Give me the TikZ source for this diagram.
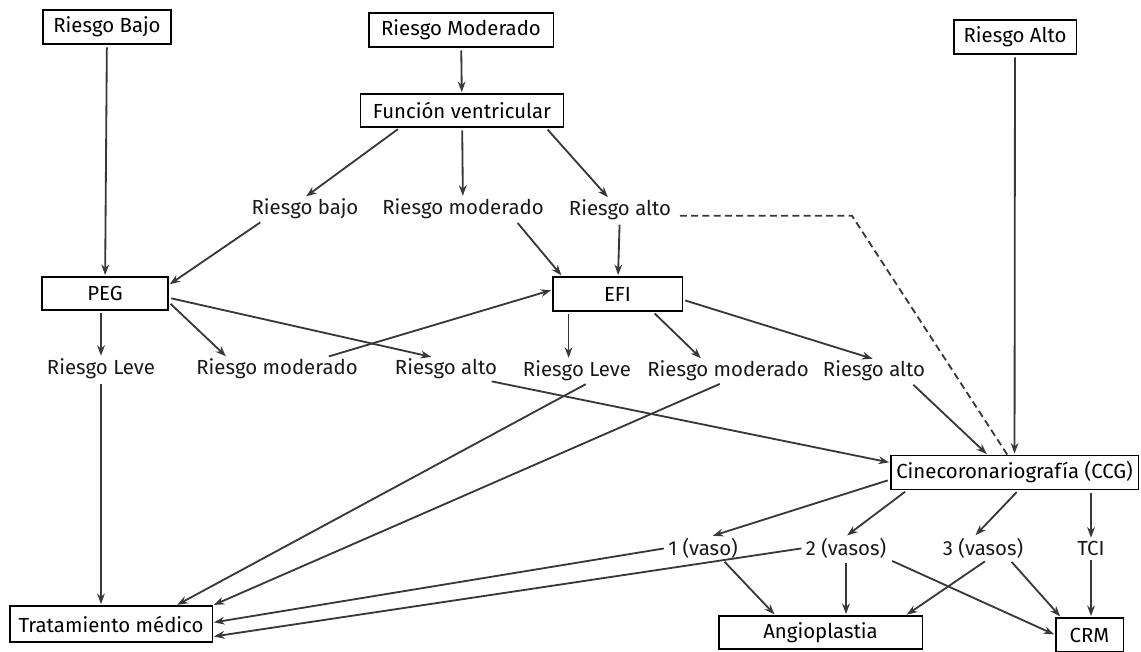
\documentclass[tikz,border=0pt]{standalone}
\usepackage{fontspec}
\setmainfont{Fira Sans}
\usetikzlibrary{arrows.meta}

\begin{document}
\begin{tikzpicture}[
    x=0.025cm, y=-0.025cm,
    font=\fontsize{14.5}{17}\selectfont,
    block/.style={rectangle, draw=black, line width=0.75pt, inner sep=0pt, minimum height=0.85cm, align=center},
    lbl/.style={inner sep=1pt, text=black!90},
    arrow/.style={-{Stealth[length=7.5pt, width=5.5pt]}, line width=1.3pt, draw=black!78, shorten <=2pt, shorten >=1pt},
    dashline/.style={dash pattern=on 5pt off 3pt, line width=1.3pt, draw=black!78, shorten <=5pt}
]
    \useasboundingbox (0,0) rectangle (1141,651);

    % entry boxes
    \node[block, minimum width=3.2cm] (rbajo) at (107,27) {Riesgo Bajo};
    \node[block, minimum width=4.6cm] (rmod) at (461,30) {Riesgo Moderado};
    \node[block, minimum width=3.05cm] (ralto) at (1015,37) {Riesgo Alto};
    \node[block, minimum width=5.075cm, minimum height=0.825cm] (fv) at (462,110.5) {Función ventricular};

    \node[lbl] (fvbajo) at (305,209) {Riesgo bajo};
    \node[lbl] (fvmod) at (463,209) {Riesgo moderado};
    \node[lbl] (fvalto) at (620,210) {Riesgo alto};

    \node[block, minimum width=3.15cm, minimum height=0.825cm] (peg) at (105,293.5) {PEG};
    \node[block, minimum width=3.225cm] (efi) at (617.5,294) {EFI};

    \node[lbl] (pegleve) at (101,369) {Riesgo Leve};
    \node[lbl] (pegmod) at (277,369) {Riesgo moderado};
    \node[lbl] (pegalto) at (446,369) {Riesgo alto};
    \node[lbl] (efileve) at (577,371) {Riesgo Leve};
    \node[lbl] (efimod) at (728,371) {Riesgo moderado};
    \node[lbl] (efialto) at (874,371) {Riesgo alto};

    \node[block, minimum width=6.175cm] (ccg) at (1014.5,472.5) {Cinecoronariografía (CCG)};

    \node[lbl] (v1) at (703,548) {1 (vaso)};
    \node[lbl] (v2) at (846,548) {2 (vasos)};
    \node[lbl] (v3) at (983,548) {3 (vasos)};
    \node[lbl] (tci) at (1091,548) {TCI};

    % outcome boxes
    \node[block, minimum width=5.05cm, minimum height=0.9cm] (tm) at (111,624) {Tratamiento médico};
    \node[block, minimum width=5.075cm, minimum height=0.825cm] (angio) at (820.5,632.5) {Angioplastia};
    \node[block, minimum width=1.675cm] (crm) at (1089.5,635) {CRM};
    \coordinate (bend) at (852,217);

    \draw[arrow] (rbajo) -- (peg);
    \draw[arrow] (rmod) -- (fv);
    \draw[arrow] ([xshift=-44pt]fv.south) -- (fvbajo.north);
    \draw[arrow] (fv) -- (fvmod);
    \draw[arrow] ([xshift=-13pt]fv.south east) -- ([xshift=-8pt]fvalto.north);
    \draw[arrow] ([xshift=9pt]fvbajo.south west) -- ([yshift=6pt]peg.east);
    \draw[arrow] ([xshift=-21pt]fvmod.south east) -- ([xshift=7pt]efi.north west);
    \draw[arrow] (fvalto) -- (efi);
    \draw[dashline] (fvalto.base east) -- (fvalto.base east -| bend) -- ([xshift=-5pt]ccg.north);
    \draw[arrow] (ralto) -- (ccg);

    \draw[arrow] (pegleve.north |- peg.south) -- (pegleve.north);
    \draw[arrow] ([yshift=-6pt]peg.east) -- ([xshift=23pt]pegmod.north west);
    \draw[arrow] ([yshift=-3pt]peg.east) -- ([xshift=28pt]pegalto.north west);
    \draw[arrow] ([xshift=35pt]pegmod.north) -- ([yshift=3pt]efi.west);
    \draw[arrow] ([xshift=-6pt]efileve.north |- efi.south) -- ([xshift=-6pt]efileve.north);
    \draw[arrow] ([xshift=25pt]efi.south) -- ([xshift=40pt]efimod.north west);
    \draw[arrow] ([yshift=-4pt]efi.east) -- (efialto.north);

    \draw[arrow] (pegleve.south) -- (pegleve.south |- tm.north);
    \draw[arrow] ([xshift=-7pt]pegalto.south east) -- ([yshift=7pt]ccg.west);
    \draw[arrow] ([xshift=8pt]efileve.south) -- ([xshift=-26pt]tm.north east);
    \draw[arrow] ([xshift=-4pt]efimod.south) -- (tm.north east);
    \draw[arrow] ([xshift=-11pt]efialto.south east) -- ([xshift=-19pt]ccg.north);

    \draw[arrow] ([yshift=-5pt]ccg.west) -- ([xshift=6pt]v1.north);
    \draw[arrow] ([xshift=12pt]ccg.south west) -- (v2.north);
    \draw[arrow] ([xshift=3pt]ccg.south) -- ([xshift=-6pt]v3.north);
    \draw[arrow] (tci.north |- ccg.south) -- (tci.north);

    \draw[arrow] (v1.west) -- ([yshift=1pt]tm.east);
    \draw[arrow] (v2.west) -- ([yshift=-9pt]tm.east);
    \draw[arrow] ([xshift=14pt]v1.south) -- ([xshift=-32pt]angio.north);
    \draw[arrow] (v2.south) -- (v2.south |- angio.north);
    \draw[arrow] ([xshift=3pt]v3.south) -- ([xshift=-12pt]angio.north east);
    \draw[arrow] ([xshift=31pt]v2.south) -- (crm.west);
    \draw[arrow] ([xshift=19pt]v3.south) -- ([xshift=4pt]crm.north west);
    \draw[arrow] (tci.south) -- (tci.south |- crm.north);
\end{tikzpicture}
\end{document}
